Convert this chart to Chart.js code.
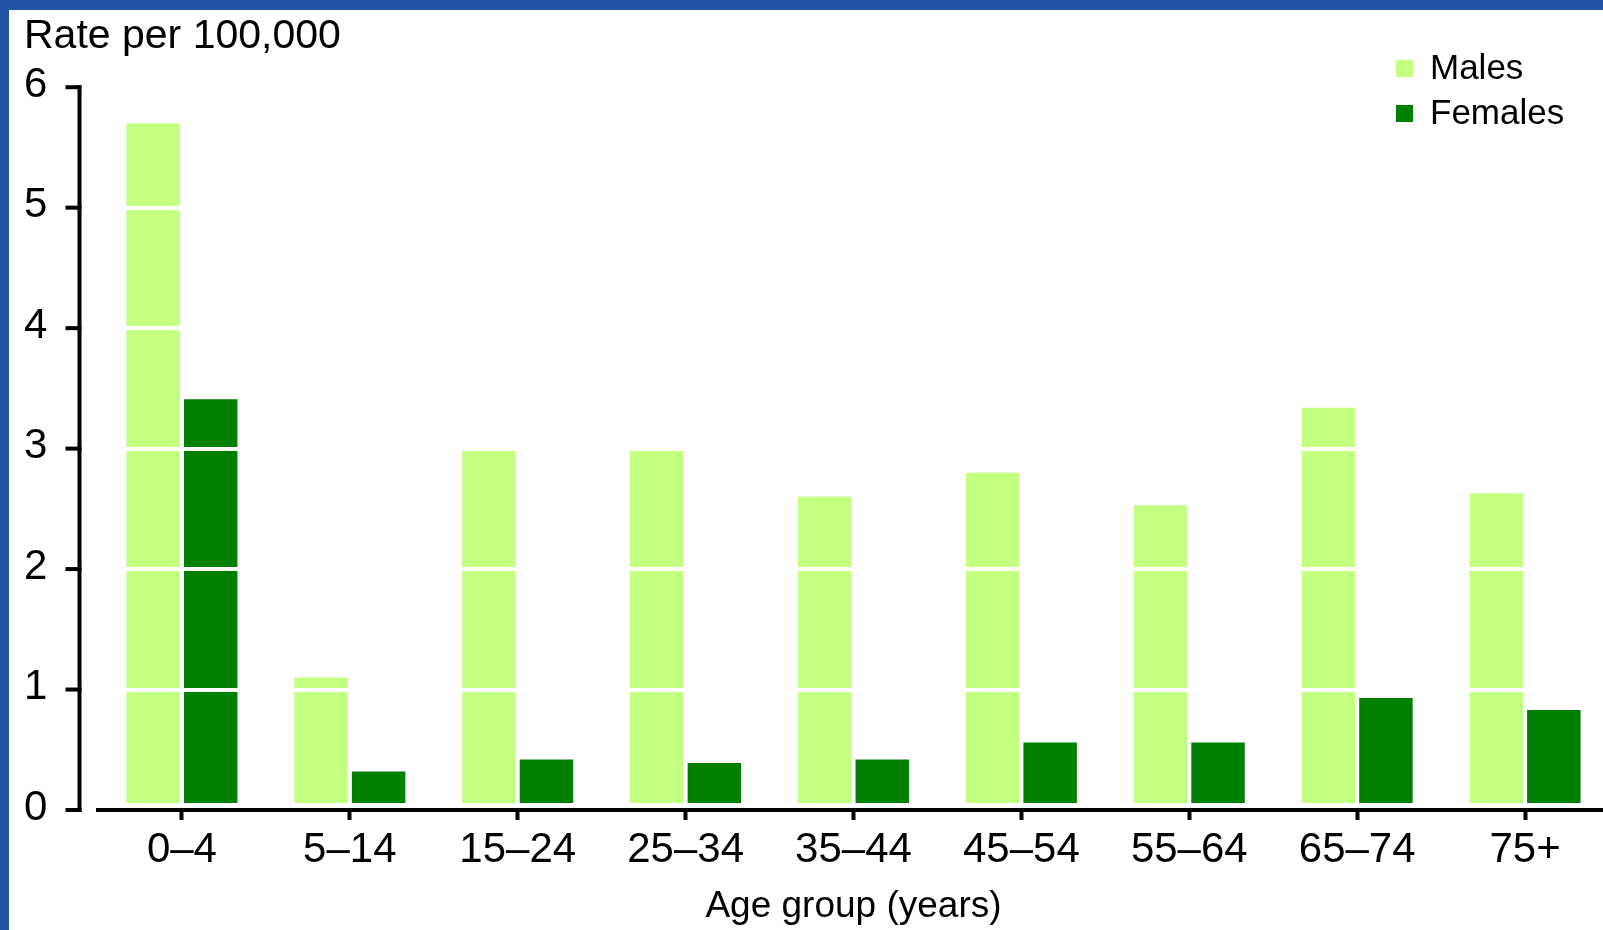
<!DOCTYPE html>
<html>
<head>
<meta charset="utf-8">
<script src="https://cdn.jsdelivr.net/npm/chart.js@4.4.1/dist/chart.umd.min.js"></script>
<style>
  html, body { margin: 0; padding: 0; width: 1603px; height: 930px; overflow: hidden; background: #2255A5; }
  #wrap { position: absolute; left: 9px; top: 10px; width: 1620px; height: 920px; background: #ffffff; }
</style>
</head>
<body>
<div id="wrap"><canvas id="c"></canvas></div>
<script>
const categories = ['0–4', '5–14', '15–24', '25–34', '35–44', '45–54', '55–64', '65–74', '75+'];
const males = [5.7, 1.1, 2.98, 2.98, 2.6, 2.8, 2.53, 3.34, 2.63];
const females = [3.41, 0.32, 0.42, 0.39, 0.42, 0.56, 0.56, 0.93, 0.83];
const yTicks = [0, 1, 2, 3, 4, 5, 6];
const seriesNames = ['Males', 'Females'];
const seriesColors = ['#C3FF80', '#008000'];
const yTitle = 'Rate per 100,000';
const xTitle = 'Age group (years)';

const FONT = "'Liberation Sans', Arial, sans-serif";

const axisPlugin = {
  id: 'axisPlugin',
  afterDraw(chart) {
    const { ctx, chartArea, scales } = chart;
    const y = scales.y;
    const x = chartArea.left - 18.5;
    ctx.save();
    ctx.strokeStyle = '#000';
    ctx.lineWidth = 4;
    ctx.beginPath();
    ctx.moveTo(x, y.getPixelForValue(yTicks[yTicks.length - 1]) - 2);
    ctx.lineTo(x, y.getPixelForValue(0) + 2);
    ctx.stroke();
    yTicks.forEach(v => {
      const py = y.getPixelForValue(v);
      ctx.beginPath();
      ctx.moveTo(x - 14, py);
      ctx.lineTo(x + 2, py);
      ctx.stroke();
    });
    // legend
    ctx.font = '35px ' + FONT;
    ctx.textBaseline = 'middle';
    ctx.textAlign = 'left';
    chart.data.datasets.forEach((ds, i) => {
      const top = 50 + i * 45;
      ctx.fillStyle = ds.backgroundColor;
      ctx.fillRect(1387, top, 17, 17);
      ctx.fillStyle = '#000';
      ctx.fillText(ds.label, 1421, top + 9);
    });
    ctx.restore();
  }
};

new Chart(document.getElementById('c'), {
  type: 'bar',
  data: {
    labels: categories,
    datasets: [
      { label: seriesNames[0], data: males, backgroundColor: seriesColors[0], borderWidth: 0 },
      { label: seriesNames[1], data: females, backgroundColor: seriesColors[1], borderWidth: 0 }
    ]
  },
  options: {
    responsive: true,
    maintainAspectRatio: false,
    animation: false,
    devicePixelRatio: 1,
    categoryPercentage: 0.685,
    barPercentage: 0.93,
    layout: { padding: { left: 15, top: 2, right: 20, bottom: 0 } },
    plugins: {
      legend: { display: false },
      tooltip: { enabled: false },
      title: {
        display: true,
        text: yTitle,
        align: 'start',
        color: '#000',
        font: { family: FONT, size: 41, weight: 'normal' },
        padding: { top: 0, bottom: 26 }
      }
    },
    scales: {
      x: {
        offset: true,
        afterFit: s => { s.height = 120; },
        grid: {
          offset: false,
          drawOnChartArea: false,
          drawTicks: true,
          tickLength: 10,
          tickColor: '#000',
          tickWidth: 4,
          z: 2
        },
        border: { display: true, color: '#000', width: 4, z: 2 },
        ticks: {
          color: '#000',
          padding: 5,
          maxRotation: 0,
          autoSkip: false,
          font: { family: FONT, size: 42 }
        },
        title: {
          display: true,
          text: xTitle,
          color: '#000',
          font: { family: FONT, size: 37 },
          padding: { top: 12, bottom: 1 }
        }
      },
      y: {
        min: 0,
        max: 6,
        afterFit: s => { s.width = 74; },
        grid: {
          color: '#ffffff',
          lineWidth: ctx => (ctx.tick && ctx.tick.value === 0) ? 14 : 4,
          drawTicks: false,
          z: 1
        },
        border: { display: false },
        ticks: {
          stepSize: 1,
          color: '#000',
          crossAlign: 'far',
          labelOffset: -2,
          font: { family: FONT, size: 42 },
          callback: v => yTicks.includes(v) ? String(v) : ''
        }
      }
    }
  },
  plugins: [axisPlugin]
});
</script>
</body>
</html>
